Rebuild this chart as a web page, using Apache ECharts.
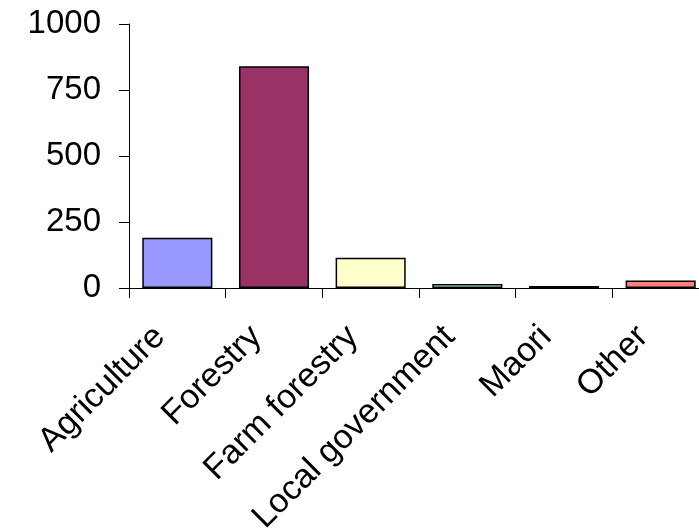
<!DOCTYPE html>
<html>
<head>
<meta charset="utf-8">
<script src="https://cdn.jsdelivr.net/npm/echarts@6/dist/echarts.min.js"></script>
<style>
  html, body { margin: 0; padding: 0; background: #fff; }
  #chart { width: 699px; height: 531px; }
</style>
</head>
<body>
<div id="chart"></div>
<script>
// categories and values
const categories = ['Agriculture', 'Forestry', 'Farm forestry', 'Local government', 'Maori', 'Other'];
const values = [190, 840, 115, 15, 8, 28];
const barColors = ['#9999FF', '#993366', '#FFFFCC', '#CCFFFF', '#660066', '#FF8080'];
const yTicks = [0, 250, 500, 750, 1000];

const chart = echarts.init(document.getElementById('chart'));

chart.setOption({
    animation: false,
    grid: {
        left: 129,
        top: 24,
        width: 580,
        height: 264,
        outerBoundsMode: 'none',
        containLabel: false
    },
    xAxis: {
        type: 'category',
        data: categories,
        axisLine: { lineStyle: { color: '#000', width: 1 } },
        axisTick: { show: true, length: 10, lineStyle: { color: '#000' } },
        axisLabel: {
            interval: 0,
            rotate: 45,
            margin: 26,
            padding: [0, 25, 0, 0],
            color: '#000',
            fontFamily: 'Liberation Sans, Arial, sans-serif',
            fontSize: 34
        }
    },
    yAxis: {
        type: 'value',
        min: yTicks[0],
        max: yTicks[yTicks.length - 1],
        interval: 250,
        splitLine: { show: false },
        axisLine: { show: true, lineStyle: { color: '#000', width: 1 } },
        axisTick: { show: true, length: 10, lineStyle: { color: '#000' } },
        axisLabel: {
            margin: 28,
            color: '#000',
            fontFamily: 'Liberation Sans, Arial, sans-serif',
            fontSize: 33,
            formatter: v => String(v)
        }
    },
    series: [{
        type: 'bar',
        barCategoryGap: '27.5%',
        data: values.map((v, i) => ({
            value: v,
            itemStyle: { color: barColors[i] }
        })),
        itemStyle: { borderColor: '#000', borderWidth: 1.5 }
    }]
});
</script>
</body>
</html>
